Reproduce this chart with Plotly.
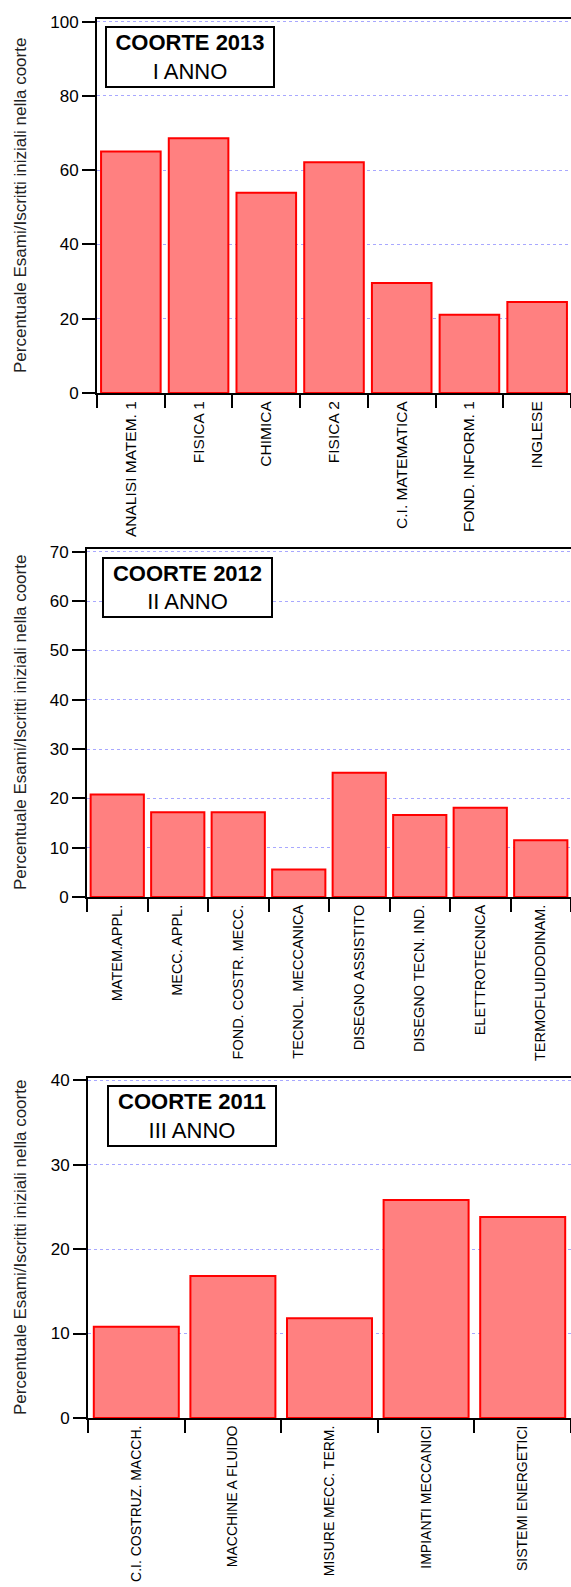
import plotly.graph_objects as go

W, H = 571, 1587

cats1 = ["ANALISI MATEM. 1", "FISICA 1", "CHIMICA", "FISICA 2", "C.I. MATEMATICA", "FOND. INFORM. 1", "INGLESE"]
vals1 = [65.0, 68.6, 53.9, 62.1, 29.6, 21.1, 24.5]

cats2 = ["MATEM.APPL.", "MECC. APPL.", "FOND. COSTR. MECC.", "TECNOL. MECCANICA", "DISEGNO ASSISTITO",
         "DISEGNO TECN. IND.", "ELETTROTECNICA", "TERMOFLUIDODINAM."]
vals2 = [20.8, 17.2, 17.2, 5.6, 25.2, 16.6, 18.1, 11.5]

cats3 = ["C.I. COSTRUZ. MACCH.", "MACCHINE A FLUIDO", "MISURE MECC. TERM.", "IMPIANTI MECCANICI", "SISTEMI ENERGETICI"]
vals3 = [10.8, 16.8, 11.8, 25.8, 23.8]

titles = ["<b>COORTE 2013</b><br>I ANNO", "<b>COORTE 2012</b><br>II ANNO", "<b>COORTE 2011</b><br>III ANNO"]
ytitle = "Percentuale Esami/Iscritti iniziali nella coorte"

FONT = "Arial, Liberation Sans, sans-serif"

# pixel geometry of each panel: (left, top, bottom), y range, dtick, box, x tick font size
panels = [
    (97, 19, 393, [0, 100.7], 20, (105, 275, 26, 88), 15.5),
    (87, 549, 897, [0, 70.55], 10, (102, 273, 557, 618), 14.5),
    (88, 1078, 1418, [0, 40.25], 10, (107, 277, 1085, 1147), 14),
]
data = [(cats1, vals1), (cats2, vals2), (cats3, vals3)]

fig = go.Figure()
annotations = []
for i, ((cats, vals), (left, top, bot, yr, dt, box, xfs)) in enumerate(zip(data, panels)):
    n = "" if i == 0 else str(i + 1)
    fig.add_trace(go.Bar(
        x=cats, y=vals, xaxis="x" + n, yaxis="y" + n,
        marker=dict(color="#FF8080", line=dict(color="#FF0000", width=2)),
        showlegend=False,
    ))
    fig.layout["xaxis" + n] = dict(
        domain=[left / W, 1.0], anchor="y" + n,
        type="category", tickson="boundaries", ticks="outside", ticklen=13, tickwidth=2,
        tickcolor="black", showline=True, linecolor="black", linewidth=2, mirror=True,
        showgrid=False, tickangle=-90, tickfont=dict(family=FONT, size=xfs, color="black"),
        ticklabelstandoff=0, automargin=False, fixedrange=True,
    )
    fig.layout["yaxis" + n] = dict(
        domain=[1 - bot / H, 1 - top / H], anchor="x" + n,
        range=yr, dtick=dt, tick0=0, ticks="outside", ticklen=13, tickwidth=2, tickcolor="black",
        showline=True, linecolor="black", linewidth=2, mirror=False,
        showgrid=True, gridcolor="#A8A8FF", griddash="dot", gridwidth=1, zeroline=False,
        tickfont=dict(family=FONT, size=17, color="black"), automargin=False,
    )
    bx0, bx1, by0, by1 = box
    annotations.append(dict(
        xref="paper", yref="paper", x=(bx0 + bx1) / 2 / W, y=1 - (by0 + by1) / 2 / H,
        xanchor="center", yanchor="middle", text=titles[i], showarrow=False, align="center",
        font=dict(family=FONT, size=22, color="black"),
        width=bx1 - bx0 - 6, height=by1 - by0 - 6, borderpad=1,
        bordercolor="black", borderwidth=2, bgcolor="white",
    ))
    annotations.append(dict(
        xref="paper", yref="paper", x=20 / W, y=1 - (top + bot) / 2 / H,
        xanchor="center", yanchor="middle", text=ytitle, textangle=-90, showarrow=False,
        font=dict(family=FONT, size=17, color="#222222"),
    ))

fig.update_layout(
    width=W, height=H, margin=dict(l=0, r=0, t=0, b=0, autoexpand=False),
    paper_bgcolor="white", plot_bgcolor="white", bargap=0.12,
    annotations=annotations,
)
fig.write_html(
    "out.html",
    config={"displayModeBar": False},
    post_script="document.body.style.margin='0';document.body.style.overflow='hidden';",
)
